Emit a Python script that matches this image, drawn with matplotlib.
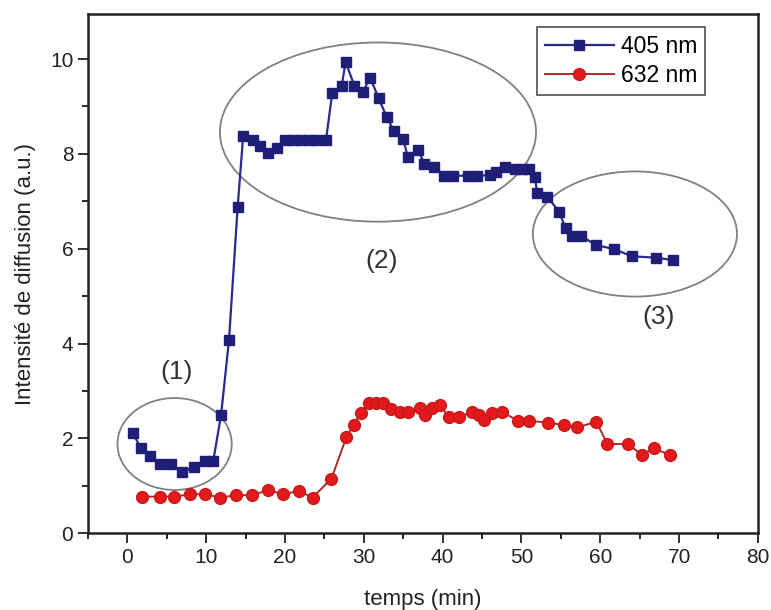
import matplotlib.pyplot as plt
from matplotlib.patches import Ellipse
from matplotlib.ticker import MultipleLocator

# 405 nm (blue squares)
t405 = [0.7, 1.7, 2.9, 4.2, 5.5, 7.0, 8.5, 9.8, 10.9, 11.9, 12.9, 14.0, 14.7, 15.9,
        16.8, 17.9, 19.0, 20.0, 21.0, 22.0, 23.0, 24.0, 25.2, 26.0, 27.2, 27.7, 28.8,
        29.9, 30.8, 31.9, 32.9, 33.8, 35.0, 35.6, 36.9, 37.7, 38.9, 40.2, 41.3, 43.2,
        44.4, 46.0, 46.8, 47.9, 49.2, 50.1, 50.9, 51.7, 52.0, 53.3, 54.8, 55.6, 56.4,
        57.6, 59.4, 61.8, 64.0, 67.1, 69.2]
i405 = [2.12, 1.79, 1.63, 1.45, 1.45, 1.29, 1.40, 1.52, 1.52, 2.50, 4.07, 6.88, 8.38, 8.29,
        8.16, 8.02, 8.12, 8.29, 8.29, 8.29, 8.29, 8.29, 8.29, 9.28, 9.44, 9.94, 9.44,
        9.31, 9.61, 9.17, 8.78, 8.49, 8.31, 7.93, 8.08, 7.78, 7.72, 7.54, 7.54, 7.54,
        7.54, 7.55, 7.62, 7.73, 7.68, 7.68, 7.68, 7.52, 7.17, 7.10, 6.77, 6.43, 6.27,
        6.27, 6.08, 5.99, 5.84, 5.81, 5.76]

# 632 nm (red circles)
t632 = [1.9, 4.1, 5.9, 8.0, 9.9, 11.8, 13.8, 15.8, 17.9, 19.7, 21.8, 23.5, 25.9, 27.8,
        28.7, 29.6, 30.6, 31.5, 32.4, 33.5, 34.6, 35.6, 37.1, 37.8, 38.7, 39.7, 40.8,
        42.1, 43.7, 44.6, 45.3, 46.3, 47.5, 49.6, 51.0, 53.4, 55.4, 57.1, 59.5, 60.9,
        63.5, 65.3, 66.8, 68.8]
i632 = [0.77, 0.77, 0.77, 0.82, 0.82, 0.75, 0.80, 0.80, 0.91, 0.82, 0.89, 0.75, 1.15, 2.03,
        2.28, 2.53, 2.74, 2.74, 2.74, 2.61, 2.56, 2.56, 2.65, 2.50, 2.63, 2.70, 2.44,
        2.44, 2.56, 2.49, 2.38, 2.53, 2.56, 2.37, 2.37, 2.33, 2.28, 2.23, 2.35, 1.88,
        1.88, 1.65, 1.79, 1.65]

# zones circled on the chart
zone_labels = ['(1)', '(2)', '(3)']
zone_centers = [(6.0, 1.88), (31.8, 8.46), (64.4, 6.31)]
zone_sizes = [(14.5, 1.94), (40.1, 3.78), (25.9, 2.64)]
label_pos = [(6.3, 3.4), (32.3, 5.75), (67.4, 4.55)]

plt.rcParams['font.family'] = ['Liberation Sans Narrow', 'Liberation Sans', 'DejaVu Sans']

fig = plt.figure(figsize=(7.71, 6.10), dpi=100)
ax = fig.add_axes([0.114, 0.126, 0.869, 0.851])

ax.plot(t405, i405, color='#2a2a8c', linewidth=1.6, marker='s', markersize=7,
        markerfacecolor='#1f1f78', markeredgecolor='#1f1f78', label='405 nm', zorder=3)
ax.plot(t632, i632, color='#b02a2a', linewidth=1.4, marker='o', markersize=8.5,
        markerfacecolor='#e4191c', markeredgecolor='#c41a1a', label='632 nm', zorder=3)

for c, s in zip(zone_centers, zone_sizes):
    ax.add_patch(Ellipse(c, s[0], s[1], fill=False, edgecolor='#808080', linewidth=1.3, zorder=2))
for lab, p in zip(zone_labels, label_pos):
    ax.text(p[0], p[1], lab, fontsize=19, color='#333333', ha='center', va='center')

ax.set_xlim(-5, 80)
ax.set_ylim(0, 10.95)
ax.xaxis.set_major_locator(MultipleLocator(10))
ax.xaxis.set_minor_locator(MultipleLocator(5))
ax.yaxis.set_major_locator(MultipleLocator(2))
ax.yaxis.set_minor_locator(MultipleLocator(1))
ax.tick_params(which='major', direction='out', length=7, width=1.3, labelsize=15, colors='#222222')
ax.tick_params(which='minor', direction='out', length=4, width=1.2)
for sp in ax.spines.values():
    sp.set_linewidth(1.8)
    sp.set_color('#222222')

ax.set_xlabel('temps (min)', fontsize=16, color='#222222', labelpad=16)
ax.set_ylabel('Intensité de diffusion (a.u.)', fontsize=16, color='#222222', labelpad=10)

leg = ax.legend(loc='upper right', bbox_to_anchor=(0.921, 0.975), borderaxespad=0,
                fontsize=16.5, frameon=True, fancybox=False, handlelength=3.0,
                borderpad=0.35, labelspacing=0.25, handletextpad=0.3)
leg.get_frame().set_edgecolor('#222222')
leg.get_frame().set_linewidth(1.2)

fig.savefig('out.png', dpi=100)
